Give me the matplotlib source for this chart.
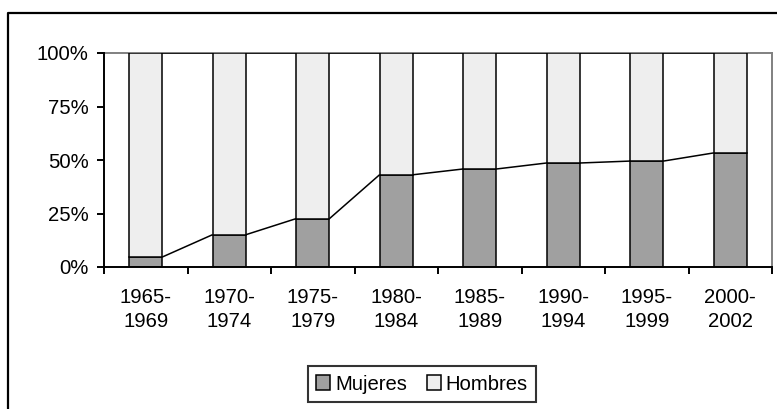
import numpy as np
import matplotlib
matplotlib.use('Agg')
import matplotlib.pyplot as plt
from matplotlib.lines import Line2D
from matplotlib.ticker import FixedLocator, PercentFormatter

plt.rcParams['font.family'] = ['Liberation Sans', 'DejaVu Sans']

#%% Datos
periodos = ['1965-\n1969', '1970-\n1974', '1975-\n1979', '1980-\n1984',
            '1985-\n1989', '1990-\n1994', '1995-\n1999', '2000-\n2002']
mujeres = [4.7, 15.1, 22.6, 43.1, 45.8, 48.6, 49.5, 53.3]
hombres = [100 - m for m in mujeres]

col_muj = '#a0a0a0'
col_hom = '#eeeeee'

#%% Figura
W, H = 777, 409
fig = plt.figure(figsize=(W/100, H/100), dpi=100)
ax = fig.add_axes([104/W, 1-267/H, (772-104)/W, (267-53)/H])

x = np.arange(len(periodos))
ancho = 0.4
ax.bar(x, mujeres, ancho, color=col_muj, edgecolor='black', linewidth=1.1,
       label='Mujeres', zorder=3)
ax.bar(x, hombres, ancho, bottom=mujeres, color=col_hom, edgecolor='black',
       linewidth=1.1, label='Hombres', zorder=3)

# lineas de series (estilo Excel) entre barras
tope = [m + h for m, h in zip(mujeres, hombres)]
for serie in (mujeres, tope):
    for i in range(len(x) - 1):
        ax.plot([x[i] + ancho/2, x[i+1] - ancho/2], [serie[i], serie[i+1]],
                color='black', linewidth=1.1, zorder=4, solid_capstyle='butt')

ax.set_xlim(-0.5, len(x) - 0.5)
ax.set_ylim(0, 100)

fs = 14.6
ax.set_yticks([0, 25, 50, 75, 100])
ax.yaxis.set_major_formatter(PercentFormatter(decimals=0))
ax.set_xticks(x)
ax.set_xticklabels(periodos, linespacing=1.32)
ax.xaxis.set_minor_locator(FixedLocator(np.arange(-0.5, len(x), 1.0)))
ax.tick_params(axis='x', which='major', length=0, pad=15, labelsize=fs)
ax.tick_params(axis='x', which='minor', length=5, width=1.4, direction='out')
ax.tick_params(axis='y', length=5, width=1.4, pad=6, labelsize=fs)

for s in ('top', 'right'):
    ax.spines[s].set_color('#808080')
    ax.spines[s].set_linewidth(1.4)
for s in ('left', 'bottom'):
    ax.spines[s].set_color('black')
    ax.spines[s].set_linewidth(1.4)
    ax.spines[s].set_zorder(5)

leg = fig.legend(loc='center', bbox_to_anchor=(422/W, 1-384/H), ncol=2,
                 fontsize=fs, frameon=True, fancybox=False, handlelength=0.7,
                 handleheight=0.7, handletextpad=0.25, columnspacing=0.95,
                 borderpad=0.42, borderaxespad=0)
leg.get_frame().set_edgecolor('black')
leg.get_frame().set_linewidth(1.5)

# borde exterior del grafico (recortado a la derecha y abajo)
fig.add_artist(Line2D([7.5/W, 7.5/W, 1.0], [0.0, 1-13/H, 1-13/H],
                      transform=fig.transFigure, color='black', linewidth=1.6))

fig.savefig('out.png', dpi=100)
